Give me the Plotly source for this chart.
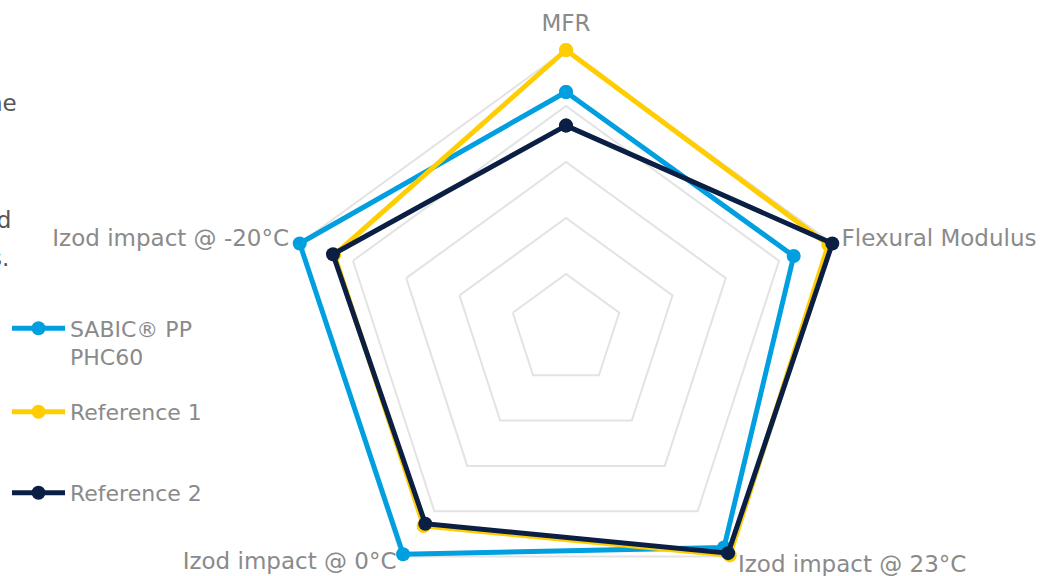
import plotly.graph_objects as go

categories = ["MFR", "Flexural Modulus", "Izod impact @ 23°C", "Izod impact @ 0°C", "Izod impact @ -20°C"]
sabic_pp = [85, 85.5, 96, 99, 100]
reference_1 = [100, 98.5, 99.5, 86.5, 87]
reference_2 = [73, 100, 98.5, 85.5, 87.5]
series_names = ["SABIC® PP<br>PHC60", "Reference 1", "Reference 2"]
series_colors = ["#009FDF", "#FFCD00", "#0B1F45"]
ring_values = [20, 40, 60, 80, 100]
side_text = ["the", "and", "grades."]

# label placement (radial distance of category labels, in axis units)
label_r = [109, 103.5, 104.5, 103, 104]
label_pos = ["middle center", "middle right", "middle right", "middle left", "middle left"]

W, H = 1047, 660
RMAX = 112
cx, cy = 566, 330
R = 280 * RMAX / 100
FONT = "DejaVu Sans"
GREY = "#8a8a8a"

fig = go.Figure()
for i, (name, vals, col) in enumerate(zip(series_names, [sabic_pp, reference_1, reference_2], series_colors)):
    fig.add_trace(go.Scatterpolar(
        r=vals + vals[:1],
        theta=categories + categories[:1],
        mode="lines+markers",
        name=name,
        line=dict(color=col, width=5),
        marker=dict(color=col, size=14),
        legend="legend" if i == 0 else f"legend{i+1}",
        hoverinfo="skip",
    ))

fig.add_trace(go.Scatterpolar(
    r=label_r, theta=categories, mode="text", text=categories,
    textposition=label_pos, cliponaxis=False, showlegend=False,
    textfont=dict(family=FONT, size=23, color=GREY), hoverinfo="skip",
))

legend_common = dict(
    x=7 / W, xanchor="left", yanchor="middle",
    font=dict(family=FONT, size=22, color=GREY),
    bgcolor="rgba(0,0,0,0)", itemwidth=53, valign="top",
)
leg_y = [343, 412, 493]

fig.update_layout(
    width=W, height=H,
    margin=dict(l=0, r=0, t=0, b=0),
    paper_bgcolor="white",
    plot_bgcolor="white",
    showlegend=True,
    legend=dict(y=1 - leg_y[0] / H, **legend_common),
    legend2=dict(y=1 - leg_y[1] / H, **legend_common),
    legend3=dict(y=1 - leg_y[2] / H, **legend_common),
    polar=dict(
        domain=dict(x=[(cx - R) / W, (cx + R) / W], y=[0, 1]),
        bgcolor="white",
        gridshape="linear",
        radialaxis=dict(
            range=[0, RMAX], tickvals=ring_values, showticklabels=False,
            ticks="", showline=False, gridcolor="#e3e3e3", gridwidth=1.5,
        ),
        angularaxis=dict(
            rotation=90, direction="clockwise", showgrid=False,
            showline=False, ticks="", showticklabels=False,
        ),
    ),
)

for txt, ypx, xr in zip(side_text, [103, 220, 258], [19, 13, 11]):
    fig.add_annotation(
        text=txt, xref="paper", yref="paper", x=xr / W, y=1 - ypx / H,
        xanchor="right", yanchor="middle", showarrow=False,
        font=dict(family=FONT, size=23, color="#555555"),
    )

fig.write_html(
    "out.html",
    config={"displayModeBar": False},
    post_script="document.body.style.margin='0';document.body.style.overflow='hidden';document.documentElement.style.overflow='hidden';",
)
